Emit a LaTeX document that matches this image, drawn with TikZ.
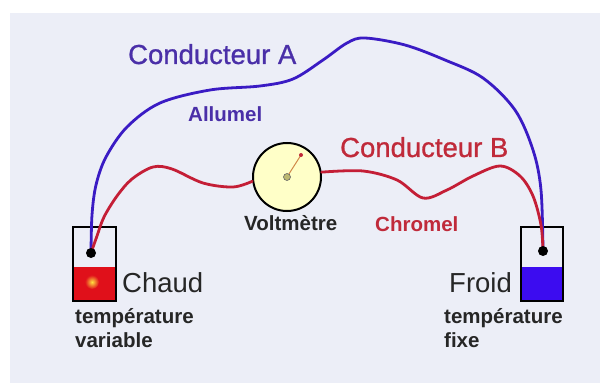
\documentclass[tikz,border=0pt]{standalone}
\usepackage{fontspec}
\setmainfont{Liberation Sans}
\newfontfamily\headfont[FakeBold=0.9]{Liberation Sans}
\definecolor{bg}{HTML}{ECEEF7}
\definecolor{wireblue}{HTML}{3A1BC4}
\definecolor{wirered}{HTML}{C41E36}
\definecolor{labelA}{HTML}{4A2FA8}
\definecolor{labelB}{HTML}{C02A3A}
\definecolor{txtgray}{HTML}{262626}
\definecolor{hotred}{HTML}{E0101A}
\definecolor{glow}{HTML}{FFE040}
\definecolor{coldblue}{HTML}{3C0CF0}
\definecolor{dial}{HTML}{FFFFC8}
\definecolor{needlecol}{HTML}{D08848}
\begin{document}
\begin{tikzpicture}[x=1pt,y=-1pt,
  biglabel/.style={text=txtgray, font=\fontsize{27.5}{30}\selectfont, inner sep=0, anchor=base west},
  headlabel/.style={font=\headfont\fontsize{27.5}{30}\selectfont, inner sep=0, anchor=base west},
  smalllabel/.style={text=txtgray, font=\bfseries\fontsize{20.5}{24}\selectfont, inner sep=0, anchor=base west},
  wireA/.style={draw=wireblue, line width=2.8pt, line cap=round},
  wireB/.style={draw=wirered, line width=2.8pt, line cap=round},
  vessel/.style={draw=black, line width=2.2pt},
  junction/.style={fill=black}]
\useasboundingbox (0,0) rectangle (600,385);
\fill[bg] (10,13) rectangle (600,383);

% vessels: hot (left) and cold (right)
\fill[hotred] (73,267) rectangle (116,301);
\shade[inner color=glow, outer color=hotred] (92,282) circle (7);
\fill[coldblue] (521,267) rectangle (563,301);
\draw[vessel] (73,227) rectangle (116,301);
\draw[vessel] (521,227) rectangle (563,301);
\coordinate (hotjct) at (91,253);
\coordinate (coldjct) at (543,251);

% voltmeter
\node[circle, draw=black, line width=2pt, fill=dial, minimum size=68pt, inner sep=0] (volt) at (287,177) {};
\coordinate (tip) at (301,155);
\draw[needlecol, line width=1pt] (volt.center) -- (tip);
\fill[labelB] (tip) circle (2);
\filldraw[draw=gray!80!black, fill=gray!60!yellow, line width=0.6pt] (volt.center) circle (3.5);

% conductor A (alumel)
\draw[wireA] plot[smooth, tension=0.55] coordinates {(hotjct) (92,215) (96,185) (106,157) (127,127) (160,103) (210,90) (260,86) (293,79) (323,60) (347,43) (365,38) (405,45) (445,60) (483,78) (515,110) (533,150) (541,190) (coldjct)};

% conductor B (chromel), through the voltmeter
\draw[wireB] plot[smooth, tension=0.55] coordinates {(hotjct) (97,236) (104,217) (117,196) (132,179) (153,167) (172,169) (203,183) (233,187) (volt.187)};
\draw[wireB] plot[smooth, tension=0.55] coordinates {(volt.8) (363,171) (397,180) (423,198) (447,190) (473,176) (500,166) (520,176) (533,196) (541,225) (coldjct)};

\fill[junction] (hotjct) circle (5);
\fill[junction] (coldjct) circle (5);

% labels
\node[headlabel, text=labelA] (condA) at (128,64) {Conducteur A};
\node[smalllabel, text=labelA] (allumel) at (188,122) {Allumel};
\node[headlabel, text=labelB] (condB) at (340,157) {Conducteur B};
\node[smalllabel] (voltlbl) at (244,230) {Voltmètre};
\node[smalllabel, text=labelB] (chromel) at (375,231) {Chromel};
\node[biglabel] (chaud) at (122,292) {Chaud};
\node[biglabel] (froid) at (449,292) {Froid};
\node[smalllabel] (tvar1) at (75,323) {température};
\node[smalllabel] (tvar2) at (75,347) {variable};
\node[smalllabel] (tfix1) at (444,323) {température};
\node[smalllabel] (tfix2) at (444,347) {fixe};
\end{tikzpicture}
\end{document}
